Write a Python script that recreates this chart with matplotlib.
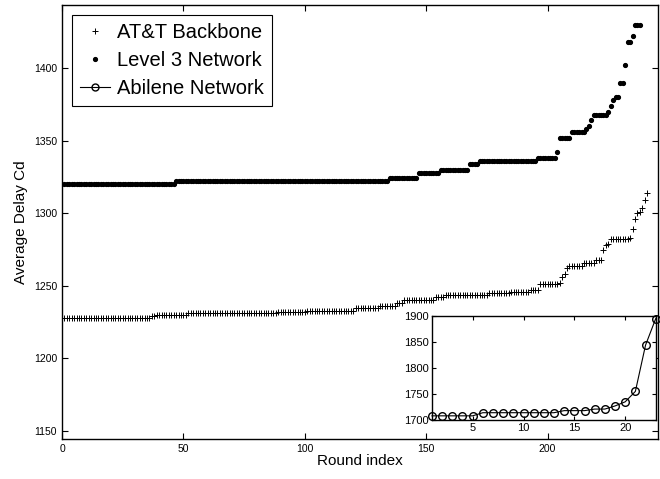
#!/usr/bin/env python3

import numpy as np
import matplotlib
matplotlib.use('Agg')
import matplotlib.pyplot as plt

plt.rcParams['font.family'] = ['Liberation Sans', 'DejaVu Sans']

# Sorted per-round delays, stored as step runs (value, run length)
att_values = [1228, 1229, 1230, 1231, 1232, 1233, 1235, 1236, 1238, 1240,
              1242, 1244, 1245, 1246, 1247, 1251, 1252, 1256, 1258, 1262,
              1264, 1266, 1268, 1275, 1278, 1279, 1282, 1283, 1289, 1296,
              1300, 1301, 1304, 1309, 1314]
att_counts = [36, 2, 13, 37, 12, 20, 10, 7, 3, 13,
              4, 18, 9, 8, 4, 8, 1, 1, 1, 1,
              6, 5, 3, 1, 1, 1, 8, 1, 1, 1,
              1, 1, 1, 1, 1]

l3_values = [1320, 1322, 1324, 1328, 1330, 1334, 1336, 1338, 1342, 1352,
             1356, 1358, 1360, 1364, 1368, 1370, 1374, 1378, 1380, 1390,
             1402, 1418, 1422, 1430]
l3_counts = [46, 88, 12, 9, 12, 4, 24, 8, 1, 5,
             6, 1, 1, 1, 6, 1, 1, 1, 2, 2,
             1, 2, 1, 3]

# Abilene (inset), one value per round
abilene = [1708, 1708, 1708, 1708, 1708, 1714, 1714, 1714, 1714, 1714,
           1714, 1714, 1714, 1718, 1718, 1718, 1721, 1721, 1727, 1735,
           1755, 1844, 1895]

main_xticks = [0, 50, 100, 150, 200]
main_yticks = [1150, 1200, 1250, 1300, 1350, 1400]
inset_xticks = [5, 10, 15, 20]
inset_yticks = [1700, 1750, 1800, 1850, 1900]

att = np.repeat(att_values, att_counts)
l3 = np.repeat(l3_values, l3_counts)

fig = plt.figure(figsize=(6.6, 4.79), dpi=100)
ax = fig.add_axes([0.094, 0.0835, 0.903, 0.906])

h_att, = ax.plot(np.arange(1, len(att) + 1), att, '+', color='black',
                 markersize=4.5, markeredgewidth=0.7, linestyle='none')
h_l3, = ax.plot(np.arange(1, len(l3) + 1), l3, '.', color='black',
                markersize=5.5, linestyle='none')
# dummy handle for legend entry
h_ab, = ax.plot([], [], '-o', color='black', markerfacecolor='none',
                markersize=5, linewidth=0.8)

ax.set_xlim(0, 245.5)
ax.set_ylim(1144.5, 1443.5)
ax.set_xticks(main_xticks)
ax.set_yticks(main_yticks)
ax.tick_params(direction='in', top=True, right=True, labelsize=7.5, length=4)
ax.set_xlabel('Round index', fontsize=11, labelpad=0)
ax.set_ylabel('Average Delay Cd', fontsize=11, labelpad=4)
for s in ax.spines.values():
    s.set_linewidth(1.0)

leg = ax.legend([h_att, h_l3, h_ab], ['AT&T Backbone', 'Level 3 Network', 'Abilene Network'],
                loc='upper left', fontsize=14.5, fancybox=False, edgecolor='black',
                framealpha=1, handlelength=1.5, handletextpad=0.35,
                labelspacing=0.45, borderpad=0.4, borderaxespad=0.5)
leg.get_frame().set_linewidth(0.8)

# inset with the Abilene network
ins = fig.add_axes([0.6545, 0.1232, 0.339, 0.217])
ins.plot(np.arange(1, len(abilene) + 1), abilene, '-o', color='black',
         markerfacecolor='none', markersize=5.5, linewidth=0.8, clip_on=False)
ins.set_xlim(1, 23)
ins.set_ylim(1700, 1900)
ins.set_xticks(inset_xticks)
ins.set_yticks(inset_yticks)
ins.tick_params(direction='in', top=True, right=True, labelsize=8, length=3, pad=2)
for s in ins.spines.values():
    s.set_linewidth(1.0)

fig.savefig('out.png', dpi=100)
